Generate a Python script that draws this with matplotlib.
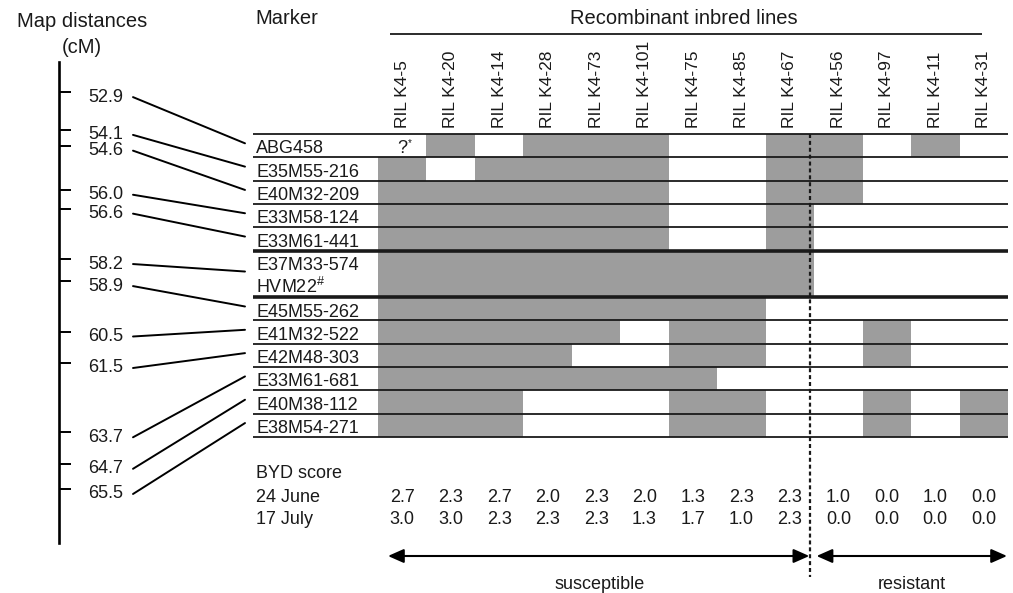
import matplotlib
matplotlib.use('Agg')
import matplotlib.pyplot as plt
from matplotlib.patches import ConnectionPatch
from matplotlib.transforms import offset_copy

plt.rcParams['font.family'] = ['Liberation Sans', 'DejaVu Sans']
plt.rcParams['mathtext.default'] = 'regular'

# ---------------- data ----------------
marker_rows = [['ABG458'], ['E35M55-216'], ['E40M32-209'], ['E33M58-124'],
               ['E33M61-441'], ['E37M33-574', 'HVM22$^{\\#}$'], ['E45M55-262'],
               ['E41M32-522'], ['E42M48-303'], ['E33M61-681'], ['E40M38-112'],
               ['E38M54-271']]
map_cm = [52.9, 54.1, 54.6, 56.0, 56.6, 58.2, 58.9, 60.5, 61.5, 63.7, 64.7, 65.5]
map_labels = ['52.9', '54.1', '54.6', '56.0', '56.6', '58.2', '58.9', '60.5',
              '61.5', '63.7', '64.7', '65.5']
ril_lines = ['RIL K4-5', 'RIL K4-20', 'RIL K4-14', 'RIL K4-28', 'RIL K4-73',
             'RIL K4-101', 'RIL K4-75', 'RIL K4-85', 'RIL K4-67', 'RIL K4-56',
             'RIL K4-97', 'RIL K4-11', 'RIL K4-31']
# 1 = grey (susceptible-parent allele), 0 = white, None = unknown (?*)
genotypes = [
    [None, 1, 0, 1, 1, 1, 0, 0, 1, 1, 0, 1, 0],
    [1, 0, 1, 1, 1, 1, 0, 0, 1, 1, 0, 0, 0],
    [1, 1, 1, 1, 1, 1, 0, 0, 1, 1, 0, 0, 0],
    [1, 1, 1, 1, 1, 1, 0, 0, 1, 0, 0, 0, 0],
    [1, 1, 1, 1, 1, 1, 0, 0, 1, 0, 0, 0, 0],
    [1, 1, 1, 1, 1, 1, 1, 1, 1, 0, 0, 0, 0],
    [1, 1, 1, 1, 1, 1, 1, 1, 0, 0, 0, 0, 0],
    [1, 1, 1, 1, 1, 0, 1, 1, 0, 0, 1, 0, 0],
    [1, 1, 1, 1, 0, 0, 1, 1, 0, 0, 1, 0, 0],
    [1, 1, 1, 1, 1, 1, 1, 0, 0, 0, 0, 0, 0],
    [1, 1, 1, 0, 0, 0, 1, 1, 0, 0, 1, 0, 1],
    [1, 1, 1, 0, 0, 0, 1, 1, 0, 0, 1, 0, 1],
]
score_june = ['2.7', '2.3', '2.7', '2.0', '2.3', '2.0', '1.3', '2.3', '2.3', '1.0', '0.0', '1.0', '0.0']
score_july = ['3.0', '3.0', '2.3', '2.3', '2.3', '1.3', '1.7', '1.0', '2.3', '0.0', '0.0', '0.0', '0.0']
score_dates = ['24 June', '17 July']
n_susceptible = 9

# ---------------- layout ----------------
W, H = 1013, 593
GX0, GX1 = 378, 1008
GY0 = 134
ROW_PX = 23.31
n_cols = len(ril_lines)
COL_PX = (GX1 - GX0) / n_cols
GREY = '#9d9d9d'
INK = '#1a1a1a'

fig = plt.figure(figsize=(W / 100, H / 100), dpi=100)
ax = fig.add_axes([0, 0, 1, 1])
ax.set_xlim(-GX0 / COL_PX, (W - GX0) / COL_PX)
ax.set_ylim((H - GY0) / ROW_PX, -GY0 / ROW_PX)
ax.axis('off')

def px_x(px):
    return (px - GX0) / COL_PX

def px_y(px):
    return (px - GY0) / ROW_PX

row_h = [len(m) for m in marker_rows]
row_top = [sum(row_h[:i]) for i in range(len(row_h))]
n_units = sum(row_h)

# cells
bx, bb, bh = [], [], []
for r, row in enumerate(genotypes):
    for c, g in enumerate(row):
        if g == 1:
            bx.append(c + 0.5); bb.append(row_top[r]); bh.append(row_h[r])
ax.bar(bx, bh, bottom=bb, width=1.0, color=GREY, linewidth=0, zorder=1)

for r, row in enumerate(genotypes):
    for c, g in enumerate(row):
        if g is None:
            yc = row_top[r] + row_h[r] / 2
            ax.text(c + 0.5, yc + 0.33, '?', ha='center', va='baseline', fontsize=13, color=INK)
            ax.text(c + 0.66, yc - 0.12, '*', ha='center', va='center', fontsize=7, color=INK)

# row lines
label_x0 = px_x(253)
bounds = [0] + [row_top[i] + row_h[i] for i in range(len(row_h))]
for i, b in enumerate(bounds):
    adj = []
    if i - 1 >= 0:
        adj.append(row_h[i - 1])
    if i < len(row_h):
        adj.append(row_h[i])
    thick = max(adj) > 1
    ax.hlines(b, label_x0, n_cols, colors=INK, lw=2.6 if thick else 1.3, zorder=3)

# marker labels
for r, names in enumerate(marker_rows):
    for k, nm in enumerate(names):
        ax.text(px_x(256), row_top[r] + k + 0.83, nm, ha='left', va='baseline',
                fontsize=13, color=INK)

# column labels
for c, nm in enumerate(ril_lines):
    ax.text(c + 0.5, px_y(128), nm, rotation=90, ha='center', va='bottom',
            fontsize=12.5, color=INK)

# headers
ax.text(px_x(82), px_y(21), 'Map distances', ha='center', va='center', fontsize=14.5, color=INK)
ax.text(px_x(82), px_y(47), '(cM)', ha='center', va='center', fontsize=14.5, color=INK)
ax.text(px_x(255), px_y(18), 'Marker', ha='left', va='center', fontsize=14.5, color=INK)
ax.text(px_x(684), px_y(18), 'Recombinant inbred lines', ha='center', va='center',
        fontsize=14.5, color=INK)
ax.hlines(px_y(34), px_x(390), px_x(982), colors=INK, lw=1.3)

# BYD scores
ax.text(px_x(256), px_y(478), 'BYD score', ha='left', va='baseline', fontsize=13, color=INK)
for date, scores, base in zip(score_dates, [score_june, score_july], [502, 524]):
    ax.text(px_x(256), px_y(base), date, ha='left', va='baseline', fontsize=13, color=INK)
    for c, s in enumerate(scores):
        ax.text(c + 0.5, px_y(base), s, ha='center', va='baseline', fontsize=13, color=INK)

# divider and arrows
xdiv = n_susceptible - 0.08
ax.vlines(xdiv, 0, px_y(577), colors=INK, lw=1.6, linestyles=(0, (1.8, 1.3)), zorder=4)
ya = px_y(556)
astyle = '<|-|>,head_length=0.95,head_width=0.42'
ax.annotate('', xy=(xdiv - 0.02, ya), xytext=(px_x(388), ya),
            arrowprops=dict(arrowstyle=astyle, mutation_scale=10, lw=1.5, color='black',
                            shrinkA=0, shrinkB=0))
ax.annotate('', xy=(px_x(1007), ya), xytext=(xdiv + 0.13, ya),
            arrowprops=dict(arrowstyle=astyle, mutation_scale=10, lw=1.5, color='black',
                            shrinkA=0, shrinkB=0))
ax.text((px_x(388) + xdiv) / 2, px_y(589), 'susceptible', ha='center', va='baseline',
        fontsize=13, color=INK)
ax.text((xdiv + 0.13 + px_x(1007)) / 2, px_y(589), 'resistant', ha='center', va='baseline',
        fontsize=13, color=INK)

# ---------------- genetic map axis ----------------
MX0, MX1, MY0, MY1 = 59, 253, 62, 543
axm = fig.add_axes([MX0 / W, 1 - MY1 / H, (MX1 - MX0) / W, (MY1 - MY0) / H])
axm.set_ylim(67.21, 51.94)
axm.set_xlim(0, 1)
axm.patch.set_alpha(0)
for s in ['top', 'right', 'bottom']:
    axm.spines[s].set_visible(False)
axm.spines['left'].set_linewidth(1.9)
axm.spines['left'].set_color('black')
axm.set_xticks([])
axm.set_yticks(map_cm)
axm.tick_params(axis='y', direction='in', length=8.6, width=1.4, color='black',
                labelleft=False)

lab_tr = offset_copy(axm.get_yaxis_transform(), fig=fig, y=-3.5, units='points')
for cm, lab in zip(map_cm, map_labels):
    axm.text((123 - MX0) / (MX1 - MX0), cm, lab, transform=lab_tr, ha='right',
             va='center', fontsize=13, color=INK)

for r, cm in enumerate(map_cm):
    yc = row_top[r] + row_h[r] / 2 - 0.1
    con = ConnectionPatch(xyA=((133 - MX0) / (MX1 - MX0), cm), coordsA=lab_tr,
                          xyB=(px_x(245), yc), coordsB=ax.transData,
                          color='black', lw=1.4)
    fig.add_artist(con)

fig.savefig('out.png', dpi=100)
